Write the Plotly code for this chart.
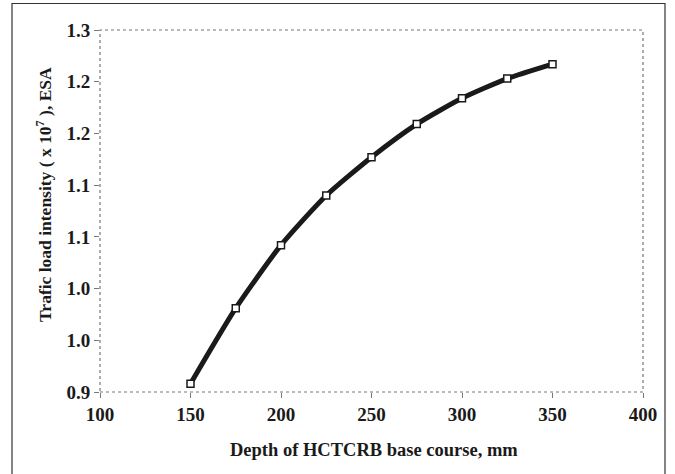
import plotly.graph_objects as go

depth_mm = [150, 175, 200, 225, 250, 275, 300, 325, 350]
traffic_load = [0.908, 0.981, 1.042, 1.090, 1.127, 1.159, 1.184, 1.203, 1.217]

y_tickvals = [0.9, 0.95, 1.0, 1.05, 1.1, 1.15, 1.2, 1.25]
y_ticktext = ["0.9", "1.0", "1.0", "1.1", "1.1", "1.2", "1.2", "1.3"]
x_tickvals = [100, 150, 200, 250, 300, 350, 400]

W, H = 675, 474
PL, PR, PT, PB = 100, 643, 30, 392
L, R, T, B = PL, W - PR, PT, H - PB
pw, ph = PR - PL, PB - PT

def px_x(px):
    return (px - PL) / pw

def px_y(py):
    return (PB - py) / ph

font_family = "Liberation Serif, Times New Roman, serif"

fig = go.Figure()
fig.add_trace(go.Scatter(
    x=depth_mm, y=traffic_load,
    mode="lines+markers",
    line=dict(color="#1a1a1a", width=5, shape="spline", smoothing=0.6),
    marker=dict(symbol="square", size=7, color="white",
                line=dict(color="#1a1a1a", width=1.5)),
    showlegend=False,
))

fig.update_layout(
    width=W, height=H,
    margin=dict(l=L, r=R, t=T, b=B),
    paper_bgcolor="white", plot_bgcolor="white",
    font=dict(family=font_family, color="#1a1a1a"),
    xaxis=dict(
        range=[100, 400], tickvals=x_tickvals,
        showgrid=False, zeroline=False, showline=False,
        ticks="outside", ticklen=5, tickcolor="#777", tickwidth=1,
        tickfont=dict(size=19, family=font_family, weight="bold"),
    ),
    yaxis=dict(
        range=[0.9, 1.25], tickvals=y_tickvals, ticktext=y_ticktext,
        showgrid=False, zeroline=False, showline=False,
        ticks="outside", ticklen=5, tickcolor="#777", tickwidth=1,
        tickfont=dict(size=19, family=font_family, weight="bold"),
    ),
    annotations=[
        dict(text="<b>Depth of HCTCRB base course, mm</b>",
             xref="paper", yref="paper", x=px_x(374), y=px_y(450),
             xanchor="center", yanchor="middle", showarrow=False,
             font=dict(size=18.5, family=font_family, color="#1a1a1a")),
        dict(text="<b>Trafic load intensity ( x 10<sup>7</sup> ), ESA</b>",
             xref="paper", yref="paper", x=px_x(44), y=px_y(195),
             xanchor="center", yanchor="middle", showarrow=False, textangle=-90,
             font=dict(size=17.5, family=font_family, color="#1a1a1a")),
    ],
    shapes=[
        dict(type="rect", xref="paper", yref="paper", x0=0, x1=1, y0=0, y1=1,
             line=dict(color="#777", width=1.2, dash="dot"), layer="above"),
        dict(type="rect", xref="paper", yref="paper",
             x0=px_x(12), x1=px_x(665), y0=px_y(485), y1=px_y(3.5),
             line=dict(color="#333", width=1.2), layer="below"),
    ],
)

fig.write_html(
    "out.html",
    config={"displayModeBar": False},
    post_script="document.body.style.margin='0';document.body.style.overflow='hidden';",
)
